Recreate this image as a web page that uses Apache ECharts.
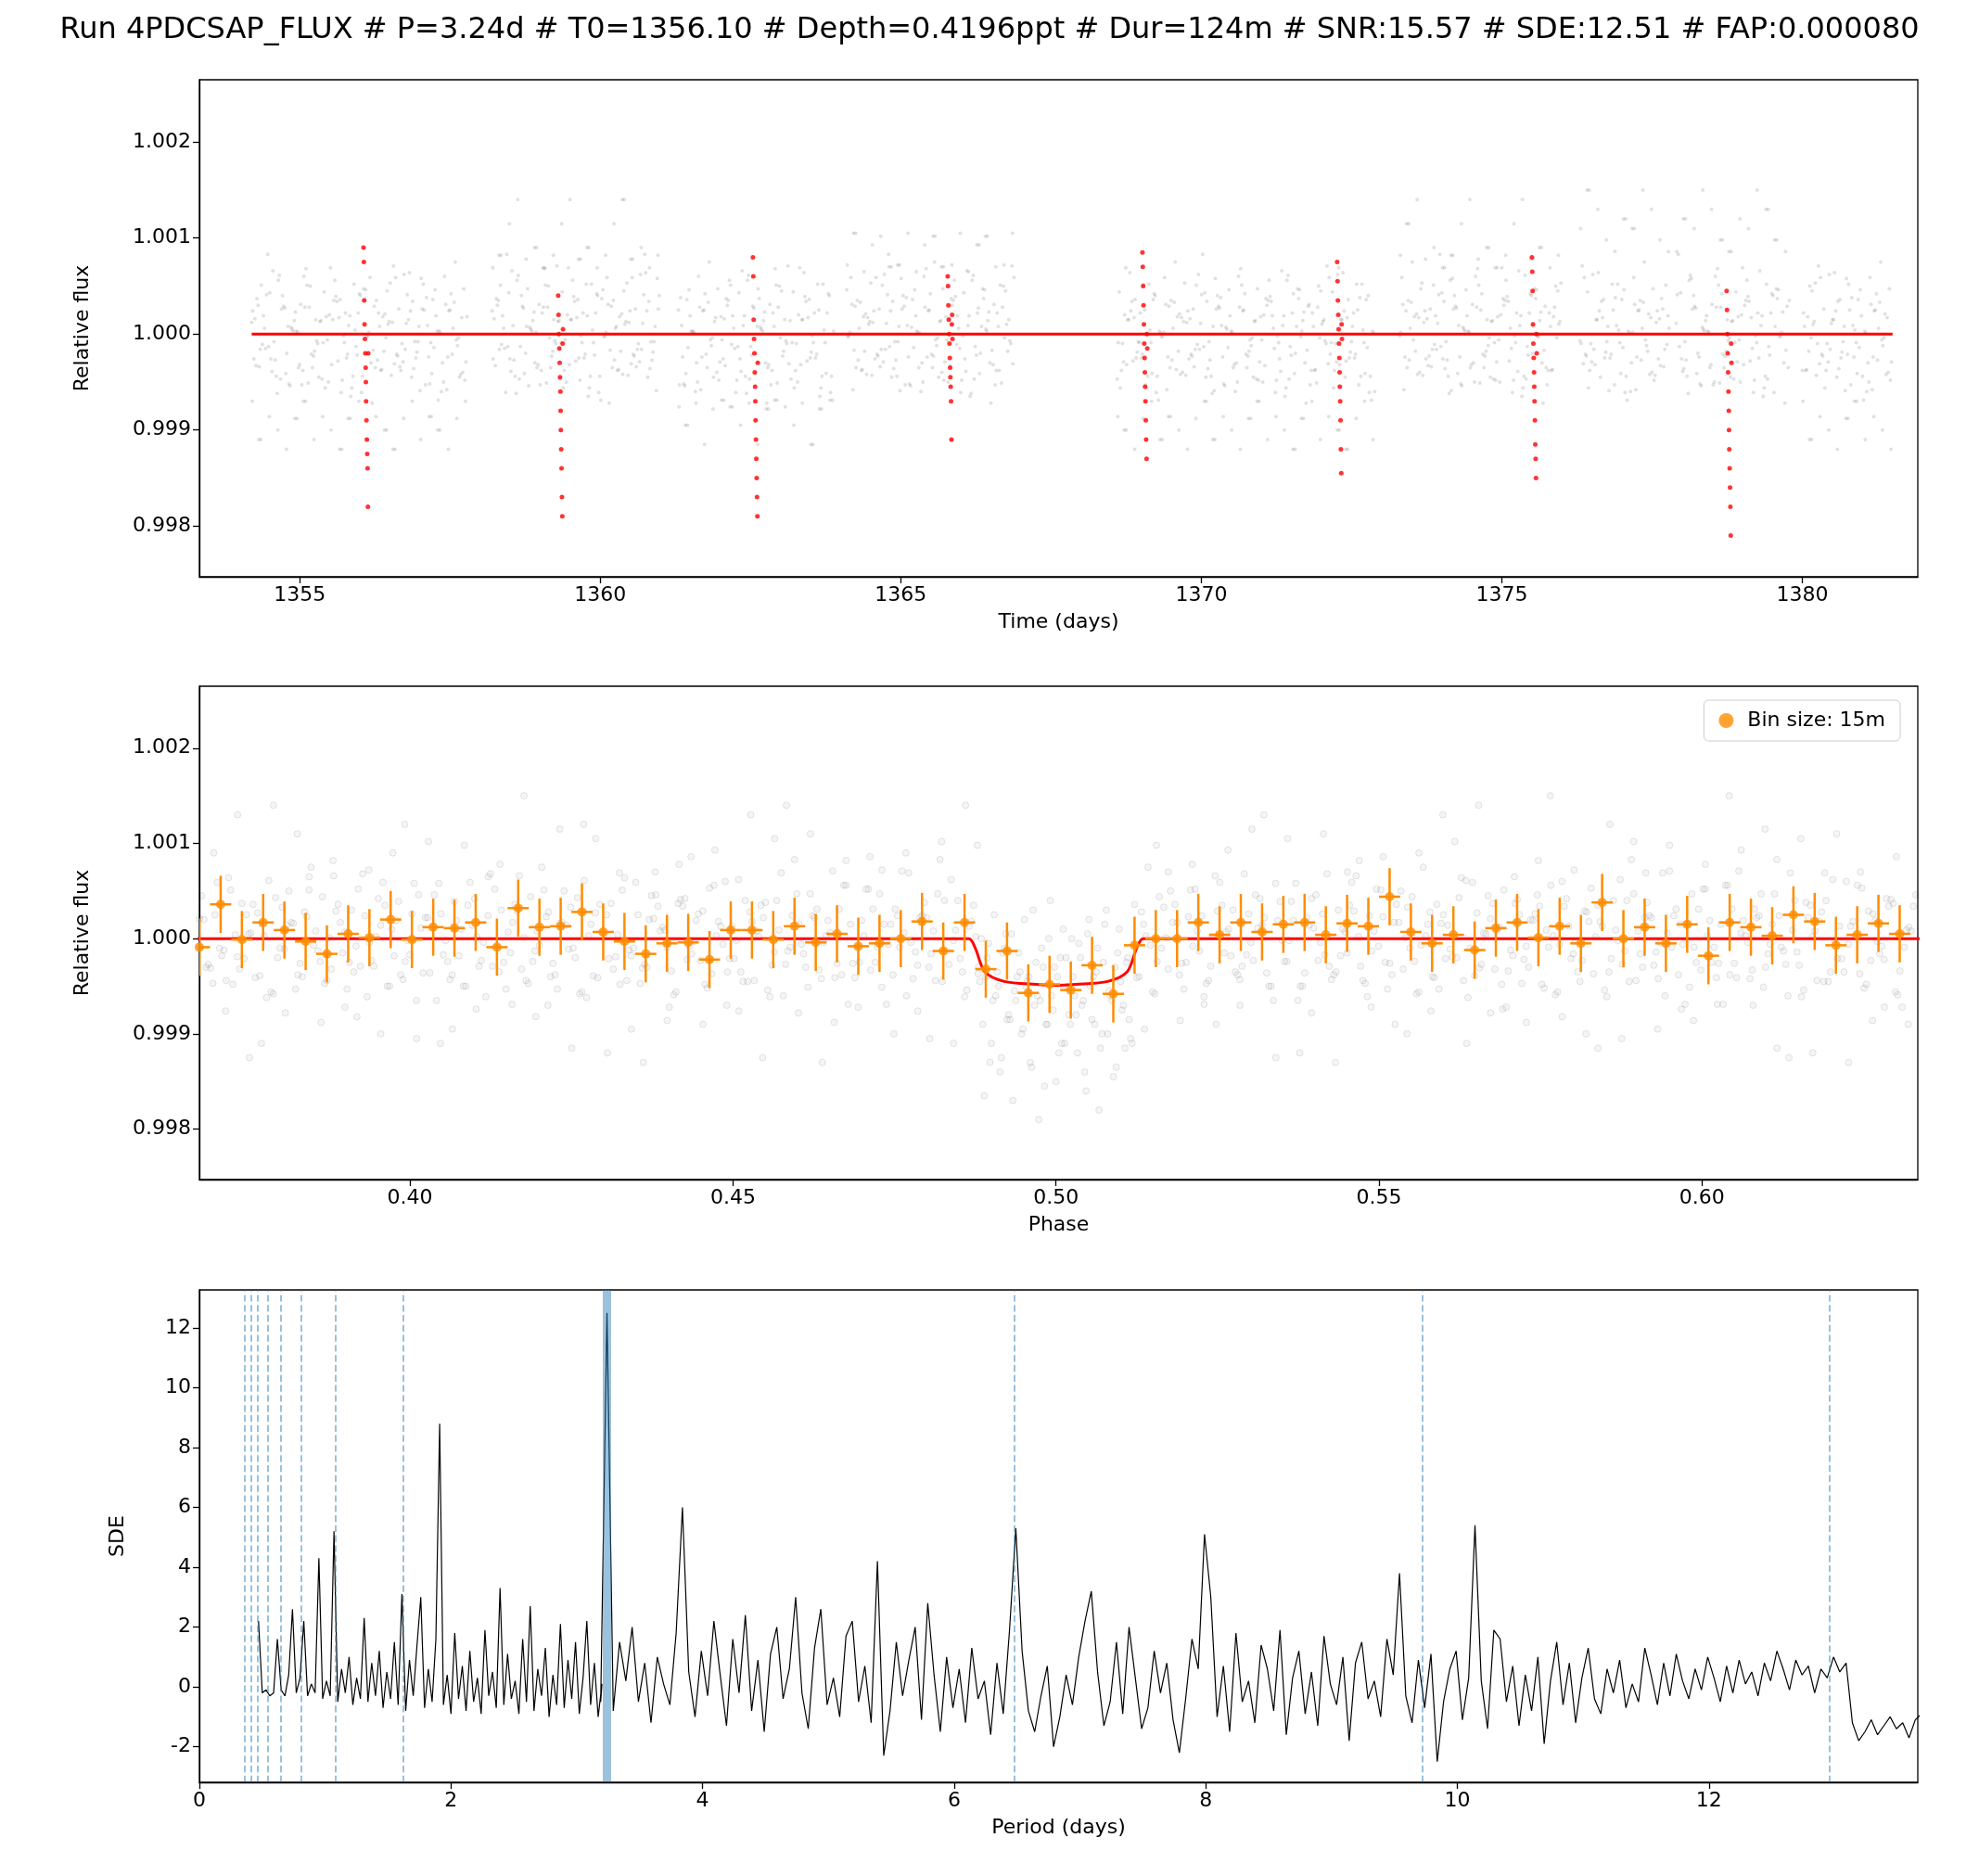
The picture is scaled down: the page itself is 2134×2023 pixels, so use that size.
<!DOCTYPE html>
<html><head><meta charset="utf-8">
<script src="https://cdn.jsdelivr.net/npm/echarts@6/dist/echarts.min.js"></script>
<style>html,body{margin:0;padding:0;background:#fff}#c{width:2134px;height:2023px}</style>
</head><body><div id="c"></div>
<script>
// ---------- DATA ----------
const noisePpm = [120,-340,410,-80,260,-520,30,600,-210,-450,180,350,-610,90,-130,470,-300,220,-40,710,-380,150,-250,520,-90,-690,310,60,-420,240,-160,830,-270,400,-540,20,280,-350,130,-60,560,-480,190,-220,370,-720,80,450,-310,-100,640,-190,250,-410,30,-580,330,170,-260,510,-130,-440,290,70,-350,680,-230,140,-500,390,-20,-650,220,460,-170,-380,100,590,-290,240,-80,-530,360,10,-240,750,-400,160,-110,430,-620,270,50,-320,510,-180,-470,200,340,-90,-560,420,-30,290,-370,130,-210,620,-450,80,380,-140,-600,240,-60,470,-330,190,-260,560,-410,30,310,-510,150,-90,690,-280,220,-440,400,-20,-350,180,530,-230,-160,340,-590,90,460,-300,250,-120,-480,370,60,-390,610,-200,140,-530,280,-70,440,-320,170,-250,520,-610,20,350,-180,-430,260,110,-360,580,-240,190,-500,420,-40,-290,300,-150,660,-470,80,230,-380,500,-100,-560,150,360,-210,40,-440,590,-270,210];
const wideNoisePpm = [900,-1100,650,-820,1200,-950,780,-700,1050,-1300,860,-760,1400,-880,720,-1050,980,-690,1150,-1200,700,-900,1300,-780,820,-1000,1020,-740,1500,-1150,690,-860,930,-1250,1100,-720];
const segments = [[1354.2,1357.8],[1358.2,1361.0],[1361.3,1363.9],[1364.1,1366.9],[1368.6,1372.9],[1373.3,1376.0],[1376.3,1377.8],[1377.9,1379.8],[1380.0,1381.5]];
const transitTimes = [1356.10,1359.34,1362.58,1365.82,1369.06,1372.30,1375.54,1378.78];
const transitOffsets = [-0.04,-0.034,-0.028,-0.022,-0.016,-0.01,-0.004,0.0,0.004,0.01,0.016,0.022,0.028,0.034,0.04];
const transitPpm = [
 [900,750,350,100,-50,-200,-350,-500,-700,-900,-1100,-1250,-1400,-1800,-200],
 [400,200,0,-150,-300,-450,-600,-800,-1000,-1200,-1400,-1700,-1900,-100,50],
 [800,600,150,-50,-200,-400,-550,-700,-900,-1100,-1300,-1500,-1700,-1900,-300],
 [600,500,300,150,0,-100,-250,-350,-450,-550,-700,-1100,100,200,-50],
 [850,700,500,300,100,-100,-250,-400,-550,-700,-900,-1100,-1300,0,-150],
 [750,550,350,200,50,-100,-250,-400,-550,-700,-900,-1200,-1450,100,-50],
 [800,650,450,100,-100,-250,-400,-550,-700,-900,-1150,-1300,-1500,0,-200],
 [450,250,0,-200,-400,-600,-800,-1000,-1200,-1400,-1600,-1800,-2100,-100,-300]];
const dipPpm = [-300,-900,-200,-1100,-600,-1400,-100,-800,-1700,-400,-1000,-500,-1300,-700,-1900,-300,-900,-600,-1500,-200,-1100,-800,-400,-1200,-700,-1600,-500,-900,-1800,-250,-1000,-650,-1350,-450,-1150,-850];
const binStart = 0.3674, binStep = 0.00329;
const binFlux = [0.99991,1.00036,0.99999,1.00017,1.00009,0.99997,0.99984,1.00005,1.00001,1.00020,0.99999,1.00012,1.00011,1.00017,0.99991,1.00032,1.00012,1.00013,1.00028,1.00007,0.99997,0.99984,0.99995,0.99996,0.99978,1.00009,1.00009,0.99999,1.00013,0.99996,1.00005,0.99992,0.99995,1.00000,1.00018,0.99987,1.00017,0.99968,0.99987,0.99943,0.99952,0.99946,0.99972,0.99942,0.99993,1.00000,1.00000,1.00017,1.00004,1.00017,1.00007,1.00015,1.00017,1.00004,1.00016,1.00013,1.00044,1.00007,0.99995,1.00004,0.99988,1.00011,1.00017,1.00001,1.00013,0.99995,1.00038,1.00000,1.00012,0.99995,1.00015,0.99982,1.00017,1.00012,1.00003,1.00025,1.00018,0.99993,1.00004,1.00016,1.00005];
const binErr = 0.0003;
const modelPhase = [0.36,0.4865,0.4875,0.489,0.492,0.497,0.5,0.503,0.508,0.511,0.5125,0.5135,0.64];
const modelFlux = [1.0,1.0,0.9999,0.99965,0.99955,0.99952,0.99951,0.99952,0.99955,0.99965,0.9999,1.0,1.0];
const sdeSeg1 = {start:0.47, step:0.03, vals:[2.2,-0.2,-0.1,-0.3,-0.2,1.6,-0.1,-0.3,0.4,2.6,-0.2,0.3,2.2,-0.3,0.1,-0.2,4.3,-0.4,0.2,-0.3,5.2,-0.5,0.6,-0.2,1.0,-0.6,0.3,-0.4,2.3,-0.5,0.8,-0.3,1.2,-0.7,0.5,-0.4,1.5,-0.6,3.1,-0.8,0.9,-0.3,1.4,3.0,-0.7,0.6,-0.5,1.6,8.8,-0.6,0.4,-0.9,1.8,-0.4,0.7,-0.8,1.2,-0.5,0.3,-0.9,1.9,-0.3,0.5,-0.7,3.3,-0.6,1.1,-0.4,0.2,-0.9,1.6,-0.5,2.7,-0.8,0.6,-0.3,1.3,-1.0,0.4,-0.6,2.1,-0.7,0.9,-0.4,1.5,-0.9,0.3,2.2,-0.6,0.8,-1.0,0.1]};
const sdeSeg2 = {start:3.19, step:0.05, vals:[-0.5,12.5,-0.8,1.5,0.2,2.0,-0.5,0.8,-1.2,1.0,0.1,-0.6,1.8,6.0,0.5,-1.0,1.2,-0.3,2.2,0.4,-1.3,1.6,-0.2,2.4,-0.8,0.9,-1.5,1.1,2.0,-0.4,0.6,3.0,-0.2,-1.4,1.3,2.6,-0.6,0.3,-1.0,1.7,2.2,-0.5,0.7,-1.2,4.2,-2.3,-0.8,1.5,-0.3,0.9,2.0,-1.1,2.8,0.4,-1.5,1.0,-0.7,0.6,-1.2,1.3,-0.4,0.2,-1.6,0.8,-0.9,1.9,5.3,1.2,-0.8,-1.5,-0.3,0.7,-2.0,-1.0,0.4,-0.6,1.0,2.2,3.2,0.5,-1.3,-0.5,1.5,-0.9,2.0,0.3,-1.4,-0.7,1.2,-0.2,0.8,-1.1,-2.2,-0.4,1.6,0.6,5.1,3.0,-1.0,0.7,-1.5,1.8,-0.5,0.2,-1.2,1.4,0.6,-0.8,1.9,-1.6,0.3,1.2,-0.9,0.5,-1.3,1.7,0.1,-0.6,1.0,-1.8,0.8,1.5,-0.4,0.2,-1.0,1.6,0.4,3.8,-0.3,-1.2,0.9,-0.7,1.1,-2.5,-0.5,0.6,1.2,-1.1,0.3,5.4,0.2,-1.4,1.9,1.6,-0.5,0.7,-1.3,0.4,-0.8,1.0,-1.9,0.2,1.5,-0.6,0.8,-1.2,0.3,1.3,-0.4,-0.9,0.6,-0.2,0.9,-0.7,0.1,-0.5,1.3,0.4,-0.6,0.8,-0.3,1.1,0.2,-0.4,0.6,-0.1,1.0,0.3,-0.5,0.7,-0.2,0.9,0.1,0.5,-0.3,0.8,0.2,1.2,0.6,-0.1,0.9,0.4,0.7,-0.2,0.6,0.3,1.0,0.5,0.8,-1.2,-1.8,-1.5,-1.1,-1.6,-1.3,-1.0,-1.4,-1.2,-1.7,-1.1,-0.9,-0.3,0.3]};
const aliasLines = [0.36,0.405,0.463,0.54,0.648,0.81,1.08,1.62,6.48,9.72,12.96];
const bestPeriod = 3.24;
const fluxTicks = [0.998,0.999,1.000,1.001,1.002];
const timeTicks = [1355,1360,1365,1370,1375,1380];
const phaseTicks = [0.40,0.45,0.50,0.55,0.60];
const periodTicks = [0,2,4,6,8,10,12];
const sdeTicks = [-2,0,2,4,6,8,10,12];

// ---------- BUILD ----------
const totalSpan = segments.reduce((s,g)=>s+(g[1]-g[0]),0);
const lc = [];
const passes = 7;
for(let p=0;p<passes;p++){
  let k = p*29;
  segments.forEach(g=>{
    const n = Math.max(2, Math.round(noisePpm.length*(g[1]-g[0])/totalSpan));
    for(let i=0;i<n;i++){
      const t = g[0]+(g[1]-g[0])*(i+p/passes)/n;
      lc.push([t, 1+noisePpm[k%noisePpm.length]*1e-6]); k++;
      if(i%6===p%6) lc.push([t+0.01, 1+wideNoisePpm[(k*7)%wideNoisePpm.length]*1e-6]);
    }
  });
}
const red = [];
transitTimes.forEach((t,j)=>transitPpm[j].forEach((v,i)=>red.push([t+transitOffsets[i], 1+v*1e-6])));
const fold = [];
for(let p=0;p<4;p++){
  const src = p%2 ? noisePpm : noisePpm.slice().reverse();
  const sh = p*47;
  src.forEach((v,i)=>{ const ph=0.3674+0.266*(i+p/4)/src.length; if(ph<0.488||ph>0.512) fold.push([ph,1+src[(i+sh)%src.length]*1e-6]); });
  wideNoisePpm.forEach((v,i)=>{ const ph=0.3674+0.266*(i+p/4+0.3)/wideNoisePpm.length; if(ph<0.488||ph>0.512) fold.push([ph,1+wideNoisePpm[(i+p*11)%wideNoisePpm.length]*1e-6]); });
}
for(let p=0;p<3;p++) dipPpm.forEach((v,i)=>fold.push([0.488+0.024*(i+p/3)/dipPpm.length, 1+(dipPpm[(i+p*13)%dipPpm.length]+250*p)*1e-6]));
const bins = binFlux.map((f,i)=>[binStart+i*binStep, f]);
const sde = [];
[sdeSeg1,sdeSeg2].forEach(s=>s.vals.forEach((v,i)=>sde.push([s.start+i*s.step, v])));

const FS = 22, font = 'DejaVu Sans';
function ax(gi, min, max, ticks, name, dec, gap){
  return {gridIndex:gi, type:'value', min, max, name, nameLocation:'middle', nameGap: gap,
    nameTextStyle:{fontSize:FS,color:'#000',fontFamily:font},
    axisLine:{show:true,onZero:false,lineStyle:{color:'#000',width:1.3}},
    axisTick:{show:true,length:7,customValues:ticks,lineStyle:{color:'#000',width:1.3}},
    axisLabel:{fontSize:FS,color:'#000',fontFamily:font,customValues:ticks,formatter:v=>(+v).toFixed(dec),margin:9},
    splitLine:{show:false}};
}
const grids = [
  {left:215,top:86,width:1853,height:536},
  {left:215,top:740,width:1853,height:532},
  {left:215,top:1391,width:1853,height:531}].map(g=>Object.assign(g,{show:true,borderColor:'#000',borderWidth:1.3,backgroundColor:'transparent'}));

const errRender = (params, api)=>{
  const x=api.value(0), y=api.value(1);
  const a=api.coord([x,y-binErr]), b=api.coord([x,y+binErr]);
  const c=api.coord([x-binStep/2,y]), d=api.coord([x+binStep/2,y]);
  const st={stroke:'#ff8c00',lineWidth:2.5};
  return {type:'group',children:[
    {type:'line',shape:{x1:a[0],y1:a[1],x2:b[0],y2:b[1]},style:st},
    {type:'line',shape:{x1:c[0],y1:c[1],x2:d[0],y2:d[1]},style:st}]};
};

const option = {
  animation:false,
  title:{text:'Run 4PDCSAP_FLUX # P=3.24d # T0=1356.10 # Depth=0.4196ppt # Dur=124m # SNR:15.57 # SDE:12.51 # FAP:0.000080',
    left:'center',top:12,textStyle:{fontSize:32,fontWeight:'normal',color:'#000',fontFamily:font}},
  grid:grids,
  xAxis:[ax(0,1353.33,1381.92,timeTicks,'Time (days)',0,38), ax(1,0.3674,0.6334,phaseTicks,'Phase',2,38), ax(2,0,13.66,periodTicks,'Period (days)',0,38)],
  yAxis:[ax(0,0.99747,1.00265,fluxTicks,'Relative flux',3,115), ax(1,0.99747,1.00265,fluxTicks,'Relative flux',3,115), ax(2,-3.19,13.27,sdeTicks,'SDE',0,77)],
  legend:{data:[{name:'Bin size: 15m',icon:'circle'}],right:85,top:755,itemWidth:16,itemHeight:16,itemGap:20,
    textStyle:{fontSize:FS,color:'#000',fontFamily:font,padding:[0,0,0,10]},borderColor:'#ccc',borderWidth:1,borderRadius:5,padding:[11,16]},
  series:[
    {type:'scatter',xAxisIndex:0,yAxisIndex:0,data:lc,symbolSize:4,itemStyle:{color:'rgba(0,0,0,0.15)'},silent:true},
    {type:'line',xAxisIndex:0,yAxisIndex:0,data:[[1354.2,1],[1381.5,1]],showSymbol:false,lineStyle:{color:'#ff0000',width:3}},
    {type:'scatter',xAxisIndex:0,yAxisIndex:0,data:red,symbolSize:5,itemStyle:{color:'#ff0000'}},
    {type:'scatter',xAxisIndex:1,yAxisIndex:1,data:fold,symbolSize:7,itemStyle:{color:'rgba(0,0,0,0.05)',borderColor:'rgba(0,0,0,0.13)',borderWidth:1},silent:true},
    {type:'line',xAxisIndex:1,yAxisIndex:1,data:modelPhase.map((p,i)=>[p,modelFlux[i]]),showSymbol:false,smooth:0.3,lineStyle:{color:'#ff0000',width:3}},
    {type:'custom',xAxisIndex:1,yAxisIndex:1,data:bins,renderItem:errRender,z:5,clip:true},
    {name:'Bin size: 15m',type:'scatter',xAxisIndex:1,yAxisIndex:1,data:bins,symbolSize:10,itemStyle:{color:'#ff8c00'},z:6},
    {type:'line',xAxisIndex:2,yAxisIndex:2,data:sde,showSymbol:false,lineStyle:{color:'#000',width:1.2},
      markLine:{silent:true,symbol:'none',label:{show:false},
        data:aliasLines.map(v=>({xAxis:v,lineStyle:{type:'dashed',color:'rgba(31,119,180,0.5)',width:1.8}}))
          .concat([{xAxis:bestPeriod,lineStyle:{type:'solid',color:'rgba(31,119,180,0.45)',width:9}}])}}
  ]
};
echarts.init(document.getElementById('c')).setOption(option);
</script></body></html>
